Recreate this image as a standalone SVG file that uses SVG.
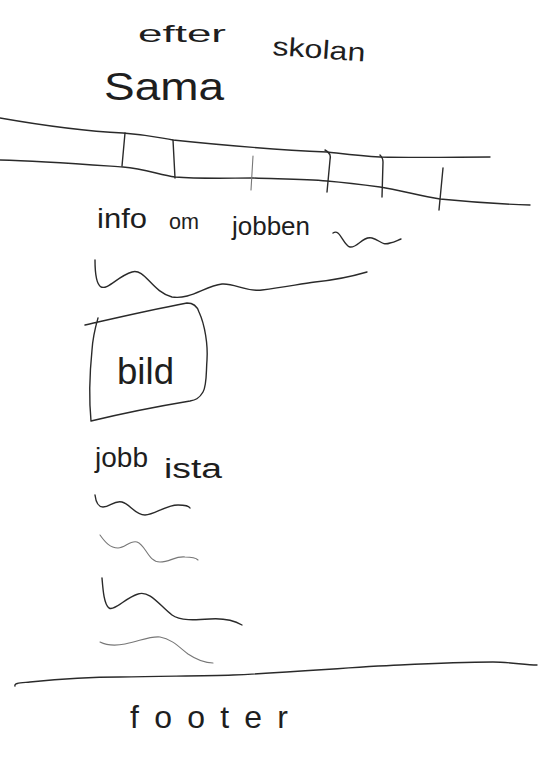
<svg xmlns="http://www.w3.org/2000/svg" width="539" height="776" viewBox="0 0 539 776">
<style>
.s{fill:none;stroke:#2a2a2a;stroke-width:1.4;stroke-linecap:round;stroke-linejoin:round}
.f{stroke:#777;stroke-width:1.1}
.t{font-family:"Liberation Sans",Arial,sans-serif;fill:#1e1e1e}
</style>
<rect width="539" height="776" fill="#fff"/>
<g id="header">
<text class="t" x="138" y="42" font-size="24" textLength="88" lengthAdjust="spacingAndGlyphs">efter</text>
<text class="t" x="272" y="55" font-size="26" textLength="93" lengthAdjust="spacingAndGlyphs" transform="rotate(4 272 55)">skolan</text>
<text class="t" x="104" y="100" font-size="38" textLength="120" lengthAdjust="spacingAndGlyphs">Sama</text>
</g>
<g id="nav">
<path class="s" d="M0,118 C40,125 80,131 123,133 C150,135 160,138 173,140 C230,146 280,150 327,152 C345,154 360,156 380,157 C420,158 460,157 490,157"/>
<path class="s" d="M0,160 C40,161 80,164 123,167 C145,169 160,175 175,177 C200,179 230,178 253,178 C280,179 305,179 327,181 C350,183 365,185 380,187 C400,190 420,196 440,199 C470,202 500,204 530,205"/>
<path class="s" d="M125,133 L122,166"/>
<path class="s" d="M173,140 L175,178"/>
<path class="s f" d="M253,156 L251,190"/>
<path class="s" d="M325,150 C329,152 331,156 330,160 L327,192"/>
<path class="s" d="M380,155 C382,157 383,159 383,162 L382,197"/>
<path class="s" d="M443,168 L439,210"/>
</g>
<g id="info">
<text class="t" x="97" y="228" font-size="28" textLength="50" lengthAdjust="spacingAndGlyphs">info</text>
<text class="t" x="169" y="229" font-size="22" textLength="30" lengthAdjust="spacingAndGlyphs">om</text>
<text class="t" x="232" y="235" font-size="26" textLength="78" lengthAdjust="spacingAndGlyphs">jobben</text>
<path class="s" d="M333,233 C340,228 343,245 350,247 C358,248 362,236 372,238 C380,240 382,246 390,243 C395,242 398,240 401,239"/>
<path class="s" d="M95,260 C95,272 96,284 101,287 C108,290 118,276 132,272 C145,268 152,292 172,297 C190,300 205,286 222,284 C235,283 245,292 262,290 C285,287 300,284 315,282 C335,280 350,277 367,272"/>
</g>
<g id="bild">
<path class="s" d="M85,325 C120,317 150,310 187,303 C193,303 197,306 199,312 C205,325 208,345 207,360 C206,372 207,385 203,392 C199,399 195,400 190,401 C160,406 120,414 91,421 C89,400 90,370 92,350 C93,335 96,325 98,318"/>
<text class="t" x="117" y="384" font-size="36" textLength="57" lengthAdjust="spacingAndGlyphs">bild</text>
</g>
<g id="jobblista">
<text class="t" x="95" y="467" font-size="27" textLength="53" lengthAdjust="spacingAndGlyphs">jobb</text>
<text class="t" x="164" y="478" font-size="27" textLength="58" lengthAdjust="spacingAndGlyphs">ista</text>
<path class="s" d="M95,495 C96,503 98,507 103,507 C110,507 114,500 122,502 C130,504 135,515 145,515 C155,515 165,505 178,505 C186,505 189,506 190,508"/>
<path class="s f" d="M100,535 C105,542 110,548 118,548 C125,548 130,540 137,542 C146,545 148,562 160,562 C170,562 175,556 185,557 C192,557 196,558 198,560"/>
<path class="s" d="M102,578 C103,590 104,604 109,608 C115,611 125,598 138,594 C150,590 160,606 172,615 C180,621 195,620 210,619 C225,618 235,621 242,625"/>
<path class="s f" d="M100,642 C108,646 115,646 125,644 C140,641 150,636 160,637 C172,639 180,648 188,654 C197,660 205,663 213,663"/>
</g>
<g id="footer">
<path class="s" d="M15,686 C14,683 20,683 30,682 C60,679 90,677 120,677 C170,676 205,676 233,675 C300,672 350,667 400,665 C440,663 470,662 493,662 C510,662 525,665 537,665"/>
<text class="t" x="130" y="728" font-size="32" textLength="158" lengthAdjust="spacing">footer</text>
</g>
</svg>
